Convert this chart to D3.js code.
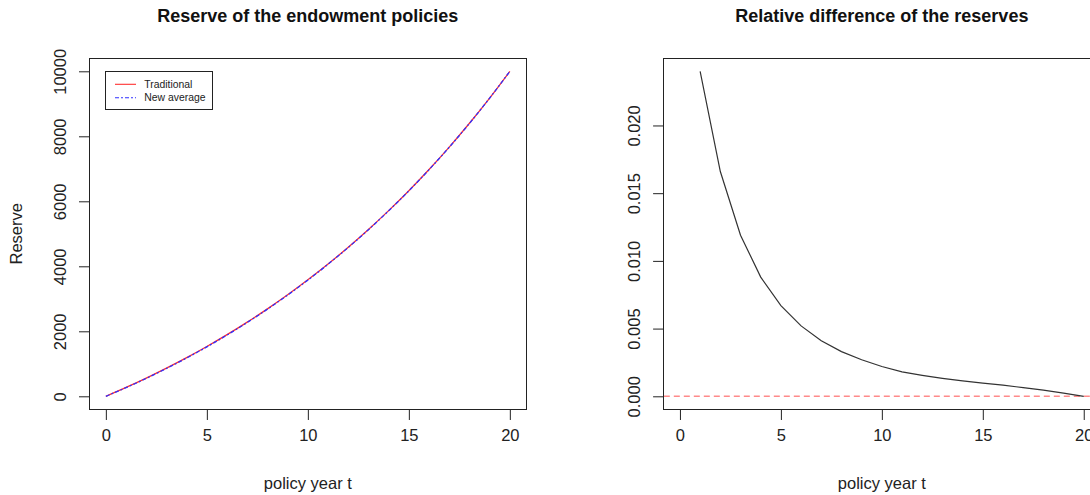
<!DOCTYPE html>
<html>
<head>
<meta charset="utf-8">
<script src="https://cdn.jsdelivr.net/npm/d3@7"></script>
<style>
  body { margin: 0; background: #fff; }
  svg { display: block; font-family: "Liberation Sans", Arial, Helvetica, sans-serif; }
  .tick line { stroke: #222; }
  .tick text { fill: #222; }
</style>
</head>
<body>
<script>
// policy years
const years = d3.range(0, 21);
const diffYears = d3.range(1, 21);

// reserve
const traditional = [0, 272, 560, 866, 1189, 1532, 1896, 2282, 2691, 3124, 3583,
  4070, 4586, 5133, 5713, 6327, 6979, 7669, 8401, 9177, 10000];
const newAverage = [0, 266, 551, 856, 1179, 1522, 1886, 2272, 2682, 3116, 3575,
  4063, 4580, 5127, 5708, 6322, 6974, 7664, 8397, 9175, 10000];

// relative difference
const relDiff = [0.0240, 0.0166, 0.0119, 0.0088, 0.0067, 0.0052, 0.0041, 0.0033,
  0.0027, 0.0022, 0.0018, 0.00155, 0.00133, 0.00114, 0.00097, 0.00082,
  0.00064, 0.00045, 0.00024, 0.0];

const xTicks = [0, 5, 10, 15, 20];
const reserveTicks = [0, 2000, 4000, 6000, 8000, 10000];
const diffTicks = [0, 0.005, 0.01, 0.015, 0.02];

const W = 1090, H = 495;
const plotTop = 58.3, plotBottom = 409.3;
const TICK = 10.7;

const svg = d3.select('body').append('svg')
  .attr('width', W)
  .attr('height', H);

// R style 4% padding
const pad = (lo, hi) => { const d = (hi - lo) * 0.04; return [lo - d, hi + d]; };

const drawPanel = (opt) => {
  const x = d3.scaleLinear().domain(pad(0, 20)).range([opt.left, opt.right]);
  const y = d3.scaleLinear().domain(pad(opt.ymin, opt.ymax)).range([plotBottom, plotTop]);

  const g = svg.append('g');

  const clipId = 'clip' + opt.id;
  svg.append('clipPath').attr('id', clipId)
    .append('rect')
    .attr('x', opt.left).attr('y', plotTop)
    .attr('width', opt.right - opt.left).attr('height', plotBottom - plotTop);

  const plot = g.append('g').attr('clip-path', `url(#${clipId})`);

  // x axis
  const xa = g.append('g')
    .attr('transform', `translate(0,${plotBottom})`)
    .call(d3.axisBottom(x).tickValues(xTicks).tickSize(TICK).tickPadding(9).tickFormat(d3.format('d')))
    .call(s => s.select('.domain').remove());
  xa.selectAll('text').attr('font-size', 16.5);

  // y axis, rotated labels
  const ya = g.append('g')
    .attr('transform', `translate(${opt.left},0)`)
    .call(d3.axisLeft(y).tickValues(opt.yTicks).tickSize(TICK).tickFormat(opt.fmt))
    .call(s => s.select('.domain').remove());
  ya.selectAll('text')
    .attr('transform', 'rotate(-90)')
    .attr('x', 0).attr('y', -24).attr('dy', 0)
    .attr('text-anchor', 'middle')
    .attr('font-size', 16.5);

  // frame
  g.append('rect')
    .attr('x', opt.left).attr('y', plotTop)
    .attr('width', opt.right - opt.left).attr('height', plotBottom - plotTop)
    .attr('fill', 'none').attr('stroke', '#222').attr('stroke-width', 1)
    .attr('shape-rendering', 'crispEdges');

  // titles
  g.append('text')
    .attr('x', (opt.left + opt.right) / 2).attr('y', 22)
    .attr('text-anchor', 'middle').attr('font-weight', 'bold')
    .attr('font-size', 18).attr('fill', '#111')
    .text(opt.title);

  g.append('text')
    .attr('x', (opt.left + opt.right) / 2).attr('y', 489)
    .attr('text-anchor', 'middle').attr('font-size', 16.5).attr('fill', '#222')
    .text('policy year t');

  if (opt.ylab) {
    g.append('text')
      .attr('transform', `translate(22,${(plotTop + plotBottom) / 2}) rotate(-90)`)
      .attr('text-anchor', 'middle').attr('font-size', 16.5).attr('fill', '#222')
      .text(opt.ylab);
  }

  return { x, y, g, plot };
};

// left panel
const left = drawPanel({
  id: 'L', left: 89.7, right: 526, ymin: 0, ymax: 10000,
  yTicks: reserveTicks, fmt: d3.format('d'),
  title: 'Reserve of the endowment policies', ylab: 'Reserve'
});

const lineL = d3.line()
  .x((d, i) => left.x(years[i]))
  .y(d => left.y(d))
  .curve(d3.curveMonotoneX);

left.plot.append('path')
  .attr('d', lineL(traditional))
  .attr('fill', 'none').attr('stroke', '#ff3030').attr('stroke-width', 1.3);

left.plot.append('path')
  .attr('d', lineL(newAverage))
  .attr('fill', 'none').attr('stroke', '#3030ff').attr('stroke-width', 1.3)
  .attr('stroke-dasharray', '4,2,2,2');

// legend
const legend = left.g.append('g').attr('transform', 'translate(105.7,71.7)');
legend.append('rect')
  .attr('width', 106.6).attr('height', 37.3)
  .attr('fill', '#fff').attr('stroke', '#222').attr('stroke-width', 1)
  .attr('shape-rendering', 'crispEdges');

const legendItems = [
  { label: 'Traditional', color: '#ff3030', dash: null },
  { label: 'New average', color: '#3030ff', dash: '4,2,2,2' }
];
legendItems.forEach((d, i) => {
  const yy = 12.6 + i * 13.4;
  legend.append('line')
    .attr('x1', 9.3).attr('x2', 30.3).attr('y1', yy).attr('y2', yy)
    .attr('stroke', d.color).attr('stroke-width', 1.1)
    .attr('stroke-dasharray', d.dash);
  legend.append('text')
    .attr('x', 38.6).attr('y', yy + 3.6)
    .attr('font-size', 10.4).attr('fill', '#222')
    .text(d.label);
});

// right panel
const right = drawPanel({
  id: 'R', left: 663.8, right: 1099.9, ymin: 0, ymax: 0.024,
  yTicks: diffTicks, fmt: d3.format('.3f'),
  title: 'Relative difference of the reserves', ylab: null
});

right.plot.append('line')
  .attr('x1', 663.8).attr('x2', 1099.9)
  .attr('y1', right.y(0)).attr('y2', right.y(0))
  .attr('stroke', '#ff8a8a').attr('stroke-width', 1.6)
  .attr('stroke-dasharray', '6,4');

const lineR = d3.line()
  .x((d, i) => right.x(diffYears[i]))
  .y(d => right.y(d));

right.plot.append('path')
  .attr('d', lineR(relDiff))
  .attr('fill', 'none').attr('stroke', '#333').attr('stroke-width', 1.2);
</script>
</body>
</html>
